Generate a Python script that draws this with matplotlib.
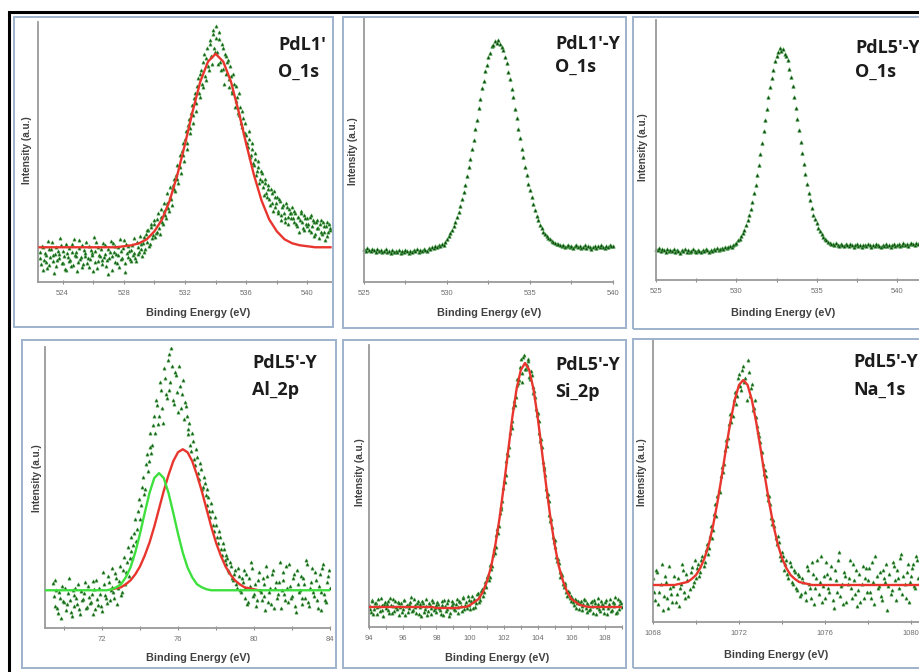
import numpy as np
import matplotlib
matplotlib.use("Agg")
import matplotlib.pyplot as plt
from matplotlib.patches import Rectangle
from matplotlib.ticker import MultipleLocator

# ---------------- data (arbitrary intensity units) ----------------
# panel 1 : PdL1' O_1s, two interleaved point sets (0.1 eV apart, offset 0.05 eV)
o1s_pdl1_x = np.round(np.arange(522.5, 541.55, 0.1), 2)
o1s_pdl1_y = [
    30, 18, 35, 22, 27, 14, 33, 25, 40, 21,
    28, 16, 31, 24, 37, 19, 26, 12, 29, 34,
    22, 38, 17, 27, 30, 20, 42, 25, 15, 32,
    26, 19, 36, 23, 29, 11, 31, 40, 21, 27,
    33, 18, 25, 37, 22, 8, 30, 26, 39, 20,
    28, 35, 15, 31, 24, 42, 19, 29, 36, 23,
    32, 27, 44, 21, 35, 30, 38, 26, 45, 33,
    40, 52, 38, 55, 47, 58, 49, 63, 54, 66,
    60, 72, 68, 80, 75, 86, 84, 98, 94, 108,
    104, 118, 116, 132, 128, 144, 140, 158, 155, 170,
    168, 185, 180, 198, 190, 210, 200, 222, 208, 226,
    218, 240, 228, 250, 236,
    258, 232, 245, 222, 240, 215, 230, 210, 224, 205,
    208, 192, 200, 182, 186, 168, 176, 156, 165, 150,
    148, 136, 144, 128, 134, 118, 124, 112, 116, 104,
    110, 96, 104, 90, 98, 84, 94, 80, 92, 76,
    86, 72, 82, 68, 78, 64, 80, 66, 74, 70,
    76, 60, 70, 56, 66, 62, 72, 54, 68, 58,
    64, 52, 68, 56, 60, 48, 62, 54, 58, 50,
    60, 50, 56, 46, 58, 52,
]
o1s_pdl1_x2 = np.round(np.arange(522.55, 541.5, 0.1), 2)
o1s_pdl1_y2 = [
    24, 36, 12, 29, 20, 41, 17, 33, 27, 9,
    35, 22, 28, 44, 19, 31, 13, 38, 25, 21,
    16, 30, 43, 26, 11, 34, 23, 37, 18, 29,
    40, 24, 15, 32, 27, 45, 20, 14, 35, 26,
    22, 39, 28, 16, 33, 24, 41, 12, 30, 36,
    19, 27, 43, 23, 34, 10, 38, 25, 31, 21,
    37, 29, 24, 40, 28, 46, 33, 39, 30, 48,
    52, 36, 58, 44, 62, 45, 50, 70, 48, 74,
    58, 80, 64, 90, 72, 96, 78, 104, 92, 118,
    100, 128, 110, 140, 122, 152, 134, 164, 150, 178,
    160, 190, 172, 206, 186, 214, 196, 230, 204, 236,
    214, 244, 220, 254, 232,
    246, 220, 252, 214, 236, 200, 228, 222, 196, 218,
    190, 210, 176, 198, 170, 190, 160, 172, 150, 160,
    140, 152, 126, 140, 120, 130, 108, 122, 100, 112,
    102, 88, 100, 86, 94, 78, 90, 72, 86, 80,
    70, 84, 62, 76, 70, 60, 76, 58, 70, 64,
    64, 72, 58, 66, 50, 70, 60, 52, 64, 56,
    58, 66, 50, 62, 46, 60, 54, 44, 62, 48,
    56, 42, 60, 50, 54,
]
o1s_pdl1_fit_x = np.round(np.arange(522.5, 541.55, 0.5), 2)
o1s_pdl1_fit_y = [
    35, 35, 35, 35, 35, 35, 35, 35, 35, 35, 35, 36, 37, 39, 43, 51, 63, 82, 108, 139,
    172, 202, 222, 230, 222, 202, 172, 139, 108, 82, 63, 51, 43, 39, 37, 36, 35, 35, 35,
]

# panel 2 : PdL1'-Y O_1s, points every 0.1 eV from 525 to 540
o1s_pdl1y_x = np.round(np.arange(525.0, 540.05, 0.1), 2)
o1s_pdl1y_y = [
    33, 31, 34, 32, 31, 33, 32, 30, 33, 31,
    32, 30, 31, 33, 30, 31, 29, 32, 30, 31,
    30, 32, 29, 31, 30, 32, 31, 29, 31, 30,
    32, 31, 33, 30, 32, 31, 33, 32, 31, 34,
    33, 35, 34, 36, 35, 37, 36, 38, 37, 40,
    43, 46, 49, 52, 56, 60, 65, 70, 76, 83,
    90, 97, 106, 115, 123, 134, 143, 154, 163, 175,
    184, 195, 202, 212, 218, 226, 230, 237, 238, 242,
    240, 243, 239, 236, 233, 226, 220, 211, 204, 194,
    186, 174, 165, 154, 145, 134, 125, 115, 107, 98,
    92, 85, 78, 72, 66, 62, 57, 54, 50, 48,
    46, 44, 43, 41, 40, 39, 38, 38, 37, 36,
    37, 35, 36, 37, 35, 36, 34, 36, 37, 35,
    36, 34, 35, 37, 34, 36, 35, 33, 35, 36,
    34, 36, 35, 37, 35, 34, 36, 35, 37, 36,
    36,
]

# panel 3 : PdL5'-Y O_1s, points every 0.1 eV from 525 to 541.5
o1s_pdl5y_x = np.round(np.arange(525.0, 541.55, 0.1), 2)
o1s_pdl5y_y = [
    31, 30, 32, 29, 31, 30, 28, 31, 29, 30,
    29, 31, 28, 30, 29, 27, 30, 29, 31, 28,
    30, 28, 29, 31, 29, 28, 30, 29, 28, 30,
    29, 31, 30, 28, 30, 29, 31, 30, 32, 30,
    31, 32, 31, 33, 32, 33, 34, 33, 35, 36,
    37, 40, 41, 44, 47, 50, 55, 60, 65, 72,
    79, 88, 96, 106, 116, 127, 138, 150, 161, 172,
    184, 194, 204, 212, 221, 226, 230, 234, 231, 233,
    228, 226, 222, 213, 205, 195, 184, 173, 162, 151,
    139, 128, 117, 107, 97, 88, 81, 73, 66, 61,
    57, 52, 49, 46, 43, 41, 40, 38, 37, 36,
    36, 35, 37, 35, 34, 36, 35, 34, 36, 35,
    34, 36, 35, 33, 35, 36, 34, 35, 33, 35,
    35, 34, 36, 35, 33, 35, 34, 36, 35, 34,
    33, 35, 34, 36, 34, 35, 33, 35, 36, 34,
    35, 36, 34, 35, 37, 35, 36, 34, 36, 37,
    36, 35, 37, 36, 38, 36,
]

# panel 4 : PdL5'-Y Al_2p
al2p_x = np.round(np.arange(69.4, 84.05, 0.1), 2)
al2p_y = [
    45, 22, 38, 15, 30, 42, 26, 18, 35, 28,
    12, 33, 40, 24, 19, 37, 29, 46, 21, 31,
    26, 14, 39, 48, 23, 34, 17, 44, 30, 52,
    28, 41, 36, 55, 24, 47, 33, 58, 44, 66,
    52, 78, 70, 96, 88, 118, 110, 142, 135, 165,
    158, 182, 176, 204, 196, 225, 214, 240, 206, 252,
    232, 276, 248, 264, 226, 255, 218, 244, 236, 210,
    224, 195, 206, 178, 188, 164, 172, 150, 160, 142,
    146, 124, 132, 112, 118, 98, 104, 86, 92, 74,
    80, 64, 70, 56, 62, 48, 58, 40, 52, 36,
    46, 30, 54, 26, 42, 60, 34, 22, 48, 38,
    28, 44, 18, 52, 36, 24, 58, 40, 30, 46,
    20, 48, 34, 62, 26, 42, 32, 54, 16, 44,
    38, 24, 50, 30, 64, 22, 46, 36, 56, 28,
    42, 18, 60, 34, 26, 52, 40,
]
al2p_x2 = np.round(np.arange(69.45, 84.0, 0.1), 2)
al2p_y2 = [
    32, 48, 20, 36, 10, 27, 40, 24, 50, 16,
    38, 22, 30, 44, 14, 28, 35, 20, 42, 25,
    34, 47, 19, 29, 40, 22, 56, 33, 25, 46,
    38, 60, 30, 50, 40, 62, 36, 72, 56, 82,
    70, 92, 84, 110, 100, 130, 124, 152, 140, 175,
    168, 196, 184, 214, 230, 205, 248, 222, 262, 236,
    270, 240, 282, 230, 258, 238, 264, 222, 250, 228,
    214, 200, 184, 196, 170, 180, 156, 166, 140, 152,
    134, 140, 118, 126, 104, 112, 92, 98, 80, 86,
    68, 74, 58, 66, 50, 54, 44, 60, 38, 50,
    58, 40, 24, 50, 66, 32, 44, 28, 56, 36,
    50, 32, 62, 26, 40, 54, 20, 46, 34, 66,
    38, 56, 28, 40, 64, 30, 50, 22, 58, 36,
    52, 30, 44, 68, 26, 40, 60, 32, 48, 20,
    54, 36, 64, 28, 46, 58,
]
al2p_fit1_x = np.round(np.arange(69.0, 84.05, 0.25), 2)
al2p_fit1_y = [
    38, 38, 38, 38, 38, 38, 38, 38, 38, 38, 38, 38,
    38, 38, 39, 41, 44, 51, 61, 76, 95, 116, 136, 151, 156, 151, 136, 116, 95, 76,
    61, 51, 44, 41, 39, 38,
    38, 38, 38, 38, 38, 38, 38, 38, 38, 38, 38, 38, 38, 38, 38, 38, 38, 38, 38, 38,
    38, 38, 38, 38, 38,
]
al2p_fit2_x = np.round(np.arange(72.5, 80.3, 0.25), 2)
al2p_fit2_y = [
    39, 40, 41, 44, 48, 54, 62, 73, 86, 102, 120, 138, 154, 168, 177, 180,
    177, 168, 154, 138, 120, 102, 86, 73, 62, 54, 48, 44, 41, 40, 39, 38,
]

# panel 5 : PdL5'-Y Si_2p
si2p_x = np.round(np.arange(94.0, 109.05, 0.1), 2)
si2p_y = [
    22, 15, 27, 18, 24, 13, 21, 29, 17, 23,
    19, 26, 14, 22, 28, 16, 20, 25, 12, 24,
    18, 27, 21, 15, 23, 30, 17, 22, 14, 26,
    20, 11, 24, 18, 28, 16, 22, 13, 25, 19,
    15, 23, 17, 26, 12, 21, 18, 27, 14, 22,
    24, 17, 28, 20, 25, 16, 30, 22, 19, 27,
    18, 31, 26, 20, 33, 30, 27, 38, 35, 45,
    50, 47, 62, 61, 78, 80, 98, 101, 120, 126,
    146, 152, 174, 180, 202, 206, 226, 230, 248, 247,
    268, 245, 272, 258, 266, 250, 256, 240, 236, 218,
    214, 194, 188, 165, 160, 138, 133, 112, 108, 90,
    87, 70, 68, 55, 54, 43, 44, 35, 36, 29,
    31, 25, 28, 19, 26, 24, 17, 23, 27, 15,
    22, 18, 26, 14, 24, 20, 29, 16, 23, 19,
    25, 13, 21, 28, 17, 24, 30, 15, 22, 26,
    20,
]
si2p_x2 = np.round(np.arange(94.05, 109.0, 0.1), 2)
si2p_y2 = [
    18, 26, 13, 24, 20, 28, 16, 22, 11, 25,
    23, 17, 29, 14, 21, 26, 18, 24, 20, 15,
    27, 12, 22, 19, 25, 16, 28, 20, 24, 13,
    23, 26, 15, 21, 12, 24, 19, 27, 17, 22,
    25, 19, 13, 22, 27, 16, 24, 11, 20, 26,
    18, 23, 14, 26, 21, 29, 18, 25, 31, 22,
    26, 19, 28, 24, 34, 25, 36, 31, 42, 40,
    52, 50, 58, 72, 74, 92, 94, 114, 118, 139,
    145, 166, 172, 194, 199, 220, 222, 242, 244, 260,
    254, 270, 258, 262, 268, 248, 252, 234, 230, 212,
    206, 186, 180, 158, 152, 131, 126, 106, 100, 85,
    80, 66, 64, 50, 52, 40, 42, 31, 35, 26,
    29, 22, 27, 24, 18, 26, 21, 28, 19, 24,
    17, 25, 21, 27, 13, 23, 18, 26, 22, 14,
    27, 19, 23, 16, 25, 21, 14, 28, 18, 24,
]
si2p_fit_x = np.round(np.arange(94.0, 109.05, 0.25), 2)
si2p_fit_y = [
    20, 20, 20, 20, 20, 20, 20, 20, 20, 20, 20, 20, 20, 20, 20, 20, 19, 19, 19, 19,
    19, 19, 20, 20,
    22, 25, 28, 35, 46, 61, 83, 110, 142, 176, 210, 238, 257, 264, 257, 238,
    210, 176, 142, 110, 83, 61, 46, 35, 28, 25, 22, 21,
    20, 20, 20, 20, 20, 20, 20, 20, 20,
]

# panel 6 : PdL5'-Y Na_1s
na1s_x = np.round(np.arange(1068.0, 1080.55, 0.1), 2)
na1s_y = [
    44, 22, 50, 30, 58, 26, 40, 14, 34, 20,
    46, 28, 16, 38, 52, 24, 42, 33, 55, 40,
    44, 58, 50, 66, 60, 78, 74, 96, 92, 118,
    126, 130, 155, 158, 182, 184, 208, 206, 230, 226,
    248, 232, 256, 244, 262, 226, 238, 214, 205, 190,
    180, 158, 152, 128, 126, 104, 102, 84, 86, 66,
    70, 52, 62, 44, 56, 38, 50, 32, 46, 28,
    40, 22, 52, 34, 60, 18, 44, 28, 66, 36,
    24, 48, 30, 56, 14, 42, 62, 26, 38, 50,
    20, 44, 34, 58, 28, 16, 48, 38, 24, 54,
    42, 30, 60, 18, 46, 36, 26, 52, 40, 12,
    48, 32, 56, 22, 44, 64, 28, 38, 50, 20,
    46, 58, 34, 62, 40, 52,
]
na1s_x2 = np.round(np.arange(1068.05, 1080.5, 0.1), 2)
na1s_y2 = [
    30, 52, 18, 38, 12, 46, 24, 56, 28, 36,
    20, 44, 34, 58, 30, 48, 26, 50, 36, 62,
    54, 46, 62, 56, 72, 68, 86, 84, 108, 106,
    132, 146, 150, 172, 176, 198, 200, 222, 218, 244,
    236, 252, 240, 222, 250, 234, 212, 222, 196, 186,
    170, 148, 146, 122, 118, 98, 96, 78, 80, 62,
    66, 58, 48, 60, 40, 52, 34, 48, 26, 44,
    30, 56, 38, 24, 48, 34, 62, 40, 20, 46,
    60, 34, 44, 22, 52, 30, 70, 36, 18, 46,
    38, 62, 24, 42, 52, 32, 20, 56, 44, 30,
    54, 24, 40, 66, 34, 50, 22, 44, 58, 36,
    28, 60, 42, 52, 34, 68, 46, 24, 58, 40,
    54, 36, 66, 44, 58,
]
na1s_fit_x = np.round(np.arange(1068.0, 1080.65, 0.2), 2)
na1s_fit_y = [
    37, 37, 37, 37, 37, 37, 38, 39, 40, 43, 47, 54, 64, 78, 97, 120, 146, 174, 200, 222,
    237, 242, 237, 222, 200, 174, 146, 120, 97, 78, 64, 54, 47, 43, 40, 39, 38, 37,
    37, 37, 37, 37, 37, 37, 37, 37, 37, 37, 37, 37, 37, 37, 37, 37, 37, 37, 37, 37,
    37, 37, 37, 37, 37, 37,
]

# ---------------- layout ----------------
W, H = 920, 672
fig = plt.figure(figsize=(W / 100, H / 100), dpi=100)


def frect(x0, y0, x1, y1):
    # pixel box (top-left origin) -> figure fraction rect
    return [x0 / W, 1 - y1 / H, (x1 - x0) / W, (y1 - y0) / H]


def ftext(x, y, s, **kw):
    fig.text(x / W, 1 - y / H, s, **kw)


# outer black frame and light blue panel boxes
fig.add_artist(Rectangle((9 / W, -0.05), 1.1, 1 - 12 / H + 0.05, transform=fig.transFigure,
                         fill=False, edgecolor="black", lw=2.2))
for b in [(14, 17, 333, 327), (343, 17, 626, 328), (633, 17, 940, 329),
          (22, 340, 336, 668), (343, 340, 626, 668), (633, 339, 940, 668)]:
    r = frect(*b)
    fig.add_artist(Rectangle((r[0], r[1]), r[2], r[3], transform=fig.transFigure,
                             fill=False, edgecolor="#9fb2cc", lw=1.4))

panels = [
    dict(rect=(38, 22, 332, 282), xlim=(522.4, 541.6), ylim=(0, 262), major=4, minor=2,
         pts=[(o1s_pdl1_x, o1s_pdl1_y), (o1s_pdl1_x2, o1s_pdl1_y2)],
         fits=[(o1s_pdl1_fit_x, o1s_pdl1_fit_y, "#e8362e")],
         name=("PdL1'", "O_1s"), name_xy=(278, 45, 72), xl=(198, 313), yl=(27, 150)),
    dict(rect=(364, 17, 613, 282), xlim=(525, 540), ylim=(0, 266), major=5, minor=2.5,
         pts=[(o1s_pdl1y_x, o1s_pdl1y_y)], fits=[],
         name=("PdL1'-Y", "O_1s"), name_xy=(555, 44, 67), xl=(489, 313), yl=(353, 151)),
    dict(rect=(656, 20, 920, 280), xlim=(525, 541.43), ylim=(0, 262), major=5, minor=2.5,
         pts=[(o1s_pdl5y_x, o1s_pdl5y_y)], fits=[],
         name=("PdL5'-Y", "O_1s"), name_xy=(855, 48, 72), xl=(783, 313), yl=(643, 147)),
    dict(rect=(45, 347, 330, 628), xlim=(69, 84), ylim=(0, 283), major=4, minor=2,
         pts=[(al2p_x, al2p_y), (al2p_x2, al2p_y2)],
         fits=[(al2p_fit2_x, al2p_fit2_y, "#e8362e"), (al2p_fit1_x, al2p_fit1_y, "#3ee03e")],
         name=("PdL5'-Y", "Al_2p"), name_xy=(252, 363, 390), xl=(198, 658), yl=(37, 478)),
    dict(rect=(369, 345, 622, 627), xlim=(94, 109), ylim=(0, 282), major=2, minor=1,
         pts=[(si2p_x, si2p_y), (si2p_x2, si2p_y2)],
         fits=[(si2p_fit_x, si2p_fit_y, "#e8362e")],
         name=("PdL5'-Y", "Si_2p"), name_xy=(555, 365, 392), xl=(497, 658), yl=(360, 472)),
    dict(rect=(653, 340, 920, 622), xlim=(1068, 1080.42), ylim=(0, 282), major=4, minor=2,
         pts=[(na1s_x, na1s_y), (na1s_x2, na1s_y2)],
         fits=[(na1s_fit_x, na1s_fit_y, "#e8362e")],
         name=("PdL5'-Y", "Na_1s"), name_xy=(853, 362, 390), xl=(776, 655), yl=(642, 472)),
]

for i, p in enumerate(panels):
    ax = fig.add_axes(frect(*p["rect"]))
    ax.set_facecolor("none")
    dense = i in (1, 2)
    for x, y in p["pts"]:
        ax.plot(x, y, ls="none", marker="^", ms=2.5 if dense else 2.3,
                mfc="#123f16" if dense else "#17521b",
                mec="#3c9a3c", mew=0.45, clip_on=False if dense else True, zorder=2)
    for fxv, fyv, col in p["fits"]:
        ax.plot(fxv, fyv, color=col, lw=1.7, zorder=3)
    ax.set_xlim(*p["xlim"])
    ax.set_ylim(*p["ylim"])
    for s in ("top", "right"):
        ax.spines[s].set_visible(False)
    for s in ("left", "bottom"):
        ax.spines[s].set_color("#9a9a9a")
        ax.spines[s].set_linewidth(1.3)
    ax.set_yticks([])
    ax.xaxis.set_major_locator(MultipleLocator(p["major"]))
    ax.xaxis.set_minor_locator(MultipleLocator(p["minor"]))
    ax.tick_params(axis="x", which="both", direction="inout", length=3, width=0.8,
                   color="#8a8a8a", labelsize=5.5, labelcolor="#6f6f6f", pad=4)
    for lab in ax.get_xticklabels():
        lab.set_family("Liberation Sans")

    n1, n2 = p["name"]
    nx, ny1, ny2 = p["name_xy"]
    for txt, ny in ((n1, ny1), (n2, ny2)):
        ftext(nx, ny, txt, fontsize=13, fontweight="bold", family="Open Sans",
              color="#1c1c1c", ha="left", va="center")
    ftext(*p["xl"], "Binding Energy (eV)", fontsize=7.8, fontweight="bold",
          family="Liberation Sans", color="#404040", ha="center", va="center")
    ftext(*p["yl"], "Intensity (a.u.)", fontsize=7.2, fontweight="bold",
          family="Liberation Sans", color="#404040", ha="center", va="center", rotation=90)

fig.savefig("out.png", dpi=100, facecolor="white")
